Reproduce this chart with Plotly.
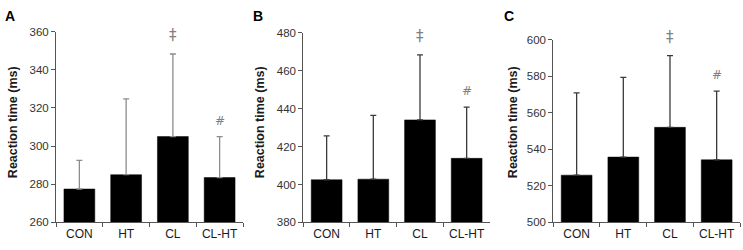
import plotly.graph_objects as go

categories = ["CON", "HT", "CL", "CL-HT"]

means_a = [277.5, 285.0, 305.0, 283.5]
err_top_a = [292.5, 324.8, 348.3, 305.0]
means_b = [402.5, 402.8, 434.1, 413.8]
err_top_b = [425.7, 436.5, 468.4, 440.8]
means_c = [525.9, 535.8, 552.1, 534.3]
err_top_c = [571.0, 579.5, 591.4, 572.0]

sig_marks = ["", "", "‡", "#"]
panel_labels = ["A", "B", "C"]
y_ranges = [(260, 360), (380, 480), (500, 600)]
y_ticks = [list(range(260, 361, 20)), list(range(380, 481, 20)), list(range(500, 601, 20))]
y_title = "Reaction time (ms)"

W, H = 743, 250
x_doms = [(56, 243), (303.3, 490), (553.3, 740)]
y_tops = [27, 28.3, 35.7]
y_bottom = 227.3
err_colors = ["#8c8c8c", "#3a3a3a", "#3a3a3a"]
title_x = [13, 260, 513]
label_x = [10, 258, 509]

fig = go.Figure()
panels = [(means_a, err_top_a), (means_b, err_top_b), (means_c, err_top_c)]
for i, (m, et) in enumerate(panels):
    xa = "x" if i == 0 else f"x{i+1}"
    ya = "y" if i == 0 else f"y{i+1}"
    plus = [t - v for t, v in zip(et, m)]
    fig.add_trace(go.Bar(
        x=categories, y=m, xaxis=xa, yaxis=ya,
        marker=dict(color="#000000", line=dict(color="#000000", width=0.5)),
        error_y=dict(type="data", symmetric=False, array=plus,
                     arrayminus=[0] * len(m), color=err_colors[i],
                     thickness=1.3, width=3),
        showlegend=False,
    ))
    ax_suffix = "" if i == 0 else str(i + 1)
    x0, x1 = x_doms[i]
    fig.update_layout(**{
        f"xaxis{ax_suffix}": dict(
            domain=[x0 / W, x1 / W], anchor=ya, type="category",
            showline=True, linecolor="#555555", linewidth=1,
            ticks="outside", tickson="boundaries", ticklen=4,
            tickcolor="#555555", showgrid=False, zeroline=False,
            tickfont=dict(family="Liberation Sans, Arial", size=12, color="#1a1a1a"),
        ),
        f"yaxis{ax_suffix}": dict(
            domain=[(H - y_bottom) / H, (H - y_tops[i]) / H], anchor=xa,
            range=list(y_ranges[i]), tickvals=y_ticks[i],
            showline=True, linecolor="#555555", linewidth=1,
            ticks="outside", ticklen=4, tickcolor="#555555",
            showgrid=False, zeroline=False,
            tickfont=dict(family="Liberation Sans, Arial", size=11.5, color="#333333"),
        ),
    })
    for c, mark, top in zip(categories, sig_marks, et):
        if mark:
            fig.add_annotation(
                x=c, y=top, xref=xa, yref=ya, text=mark, showarrow=False,
                yanchor="middle", yshift=19 if mark == "‡" else 16,
                font=dict(family="DejaVu Sans, Liberation Sans",
                          size=15 if mark == "‡" else 12, color="#808080"),
            )
    fig.add_annotation(
        x=title_x[i] / W, y=(H - 122) / H, xref="paper", yref="paper",
        text=f"<b>{y_title}</b>", textangle=-90, showarrow=False,
        xanchor="center", yanchor="middle",
        font=dict(family="Liberation Sans, Arial", size=12.5, color="#1a1a1a"),
    )
    fig.add_annotation(
        x=label_x[i] / W, y=(H - 10) / H, xref="paper", yref="paper",
        text=f"<b>{panel_labels[i]}</b>", showarrow=False,
        xanchor="center", yanchor="middle",
        font=dict(family="Liberation Sans, Arial", size=14, color="#000000"),
    )

fig.update_layout(
    width=W, height=H, margin=dict(l=0, r=0, t=0, b=0),
    paper_bgcolor="white", plot_bgcolor="white",
    bargap=0.34,
)
fig.write_html("out.html", config={"displayModeBar": False},
               post_script="document.body.style.margin='0';")
